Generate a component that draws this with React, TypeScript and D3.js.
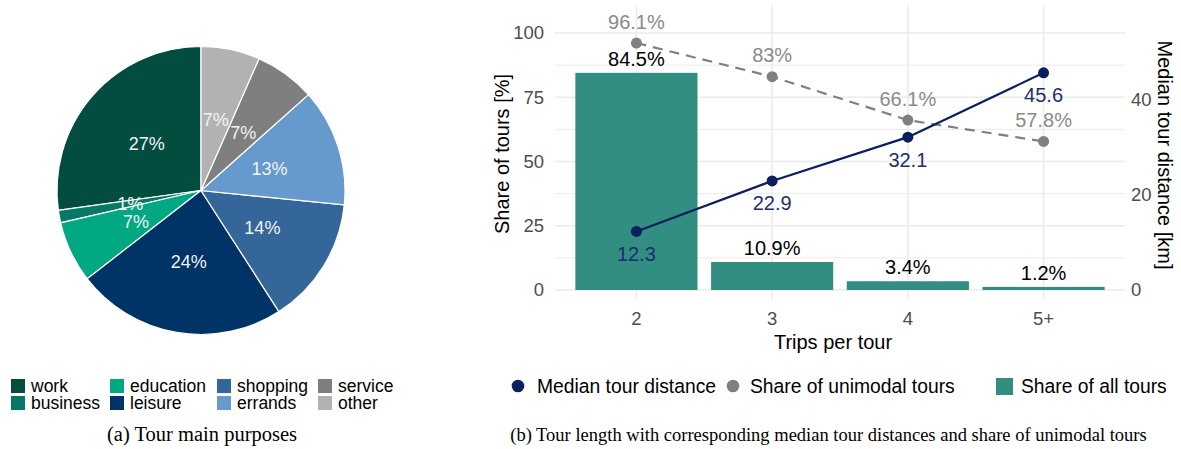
import React from "react";
import * as d3 from "d3";

// ---------- data ----------
const purposes = ["work", "business", "education", "leisure", "shopping", "errands", "service", "other"];
const purposeShares = [27.2, 1.4, 6.9, 23.6, 14.3, 13.2, 6.8, 6.6];

const tripCategories = ["2", "3", "4", "5+"];
const shareAllTours = [84.5, 10.9, 3.4, 1.2];
const medianDistance = [12.3, 22.9, 32.1, 45.6];
const shareUnimodal = [96.1, 83, 66.1, 57.8];
const leftTicks = [0, 25, 50, 75, 100];
const minorTicks = [12.5, 37.5, 62.5, 87.5];
const rightTicks = [0, 20, 40];

// ---------- styles ----------
const purposeColors = ["#024D40", "#077868", "#02A881", "#003366", "#346699", "#6699CC", "#7F7F7F", "#B2B2B2"];
const SANS = "'Liberation Sans', Arial, Helvetica, sans-serif";
const SERIF = "'Liberation Serif', 'Times New Roman', serif";
const TEAL = "#318E80";
const NAVY = "#0B1F5E";
const NAVY_TXT = "#1B2F6E";
const GREY_PT = "#808080";
const GREY_TXT = "#8A8A8A";
const AXIS_TXT = "#4D4D4D";
const GRID = "#EBEBEB";

export default function App() {
  // ---- pie ----
  const cx = 201, cy = 190.5, r = 144;
  const pie = d3.pie<number>().sort(null).startAngle(0).endAngle(-2 * Math.PI);
  const arcs = pie(purposeShares);
  const arcGen = d3.arc<d3.PieArcDatum<number>>().innerRadius(0).outerRadius(r);
  const legendCols = [11, 110, 217, 318];
  const legendRows = [379, 396];

  // ---- bar/line chart ----
  const x = d3.scaleBand<string>().domain(tripCategories).range([555, 1125]).paddingInner(0.1).paddingOuter(0.15);
  const xc = (c: string) => (x(c) as number) + x.bandwidth() / 2;
  const y = d3.scaleLinear().domain([0, 100]).range([290, 33]);
  const ratio = 84.5 / 45.6;
  const yDist = d3.scaleLinear().domain([0, 100 / ratio]).range([290, 33]);

  const line = d3.line<number>().x((_, i) => xc(tripCategories[i])).y((d) => y(d));
  const lineDist = d3.line<number>().x((_, i) => xc(tripCategories[i])).y((d) => yDist(d));

  const fmt = (v: number) => `${v}%`;

  return (
    <svg width={1181} height={449} style={{ position: "absolute", left: 0, top: 0, display: "block", background: "#fff" }}>
      {/* ================= Pie ================= */}
      <g transform={`translate(${cx},${cy})`}>
        {arcs.map((a, i) => (
          <path key={purposes[i]} d={arcGen(a) as string} fill={purposeColors[i]} stroke="#fff" strokeWidth={1.2} />
        ))}
        {arcs.map((a, i) => {
          const [lx, ly] = arcGen.centroid(a);
          return (
            <text key={"l" + i} x={lx} y={ly} dy="0.35em" textAnchor="middle" fontFamily={SANS} fontSize={18} fill="#F2F2F2">
              {Math.round(purposeShares[i])}%
            </text>
          );
        })}
      </g>
      {purposes.map((p, i) => {
        const col = Math.floor(i / 2), row = i % 2;
        const lx = legendCols[col], ly = legendRows[row];
        return (
          <g key={"lg" + p}>
            <rect x={lx} y={ly} width={14} height={14} fill={purposeColors[i]} />
            <text x={lx + 20} y={ly + 13} fontFamily={SANS} fontSize={17.5} fill="#000">{p}</text>
          </g>
        );
      })}
      <text x={202} y={441} textAnchor="middle" fontFamily={SERIF} fontSize={20.5} fill="#000">(a) Tour main purposes</text>

      {/* ================= Bar + lines ================= */}
      {minorTicks.map((t) => (
        <line key={"mg" + t} x1={555} x2={1125} y1={y(t)} y2={y(t)} stroke={GRID} strokeWidth={1} />
      ))}
      {leftTicks.map((t) => (
        <line key={"g" + t} x1={555} x2={1125} y1={y(t)} y2={y(t)} stroke={GRID} strokeWidth={1.5} />
      ))}
      {tripCategories.map((c) => (
        <line key={"vg" + c} x1={xc(c)} x2={xc(c)} y1={5} y2={299} stroke={GRID} strokeWidth={1.5} />
      ))}
      {tripCategories.map((c, i) => (
        <rect key={"b" + c} x={x(c)} y={y(shareAllTours[i])} width={x.bandwidth()} height={y(0) - y(shareAllTours[i])} fill={TEAL} />
      ))}
      <path d={line(shareUnimodal) as string} fill="none" stroke={GREY_PT} strokeWidth={2.2} strokeDasharray="10 7" />
      <path d={lineDist(medianDistance) as string} fill="none" stroke={NAVY} strokeWidth={2.2} />
      {tripCategories.map((c, i) => (
        <circle key={"gp" + c} cx={xc(c)} cy={y(shareUnimodal[i])} r={5.5} fill={GREY_PT} />
      ))}
      {tripCategories.map((c, i) => (
        <circle key={"np" + c} cx={xc(c)} cy={yDist(medianDistance[i])} r={5.5} fill={NAVY} />
      ))}
      {tripCategories.map((c, i) => (
        <text key={"bl" + c} x={xc(c)} y={y(shareAllTours[i]) - 7} textAnchor="middle" fontFamily={SANS} fontSize={20} fill="#000">
          {fmt(shareAllTours[i])}
        </text>
      ))}
      {tripCategories.map((c, i) => (
        <text key={"gl" + c} x={xc(c)} y={y(shareUnimodal[i]) - 14.5} textAnchor="middle" fontFamily={SANS} fontSize={20} fill={GREY_TXT}>
          {fmt(shareUnimodal[i])}
        </text>
      ))}
      {tripCategories.map((c, i) => (
        <text key={"nl" + c} x={xc(c)} y={yDist(medianDistance[i]) + 29.5} textAnchor="middle" fontFamily={SANS} fontSize={20} fill={NAVY_TXT}>
          {medianDistance[i]}
        </text>
      ))}
      {/* left axis */}
      {leftTicks.map((t) => (
        <text key={"lt" + t} x={544} y={y(t)} dy="0.35em" textAnchor="end" fontFamily={SANS} fontSize={18.5} fill={AXIS_TXT}>{t}</text>
      ))}
      {/* right axis */}
      {rightTicks.map((t) => (
        <text key={"rt" + t} x={1131} y={yDist(t)} dy="0.35em" textAnchor="start" fontFamily={SANS} fontSize={18.5} fill={AXIS_TXT}>{t}</text>
      ))}
      {/* x axis */}
      {tripCategories.map((c) => (
        <text key={"xt" + c} x={xc(c)} y={325} textAnchor="middle" fontFamily={SANS} fontSize={18.5} fill={AXIS_TXT}>{c}</text>
      ))}
      <text x={833} y={349} textAnchor="middle" fontFamily={SANS} fontSize={20} fill="#000">Trips per tour</text>
      <text transform="translate(509,154) rotate(-90)" textAnchor="middle" fontFamily={SANS} fontSize={20} fill="#000">Share of tours [%]</text>
      <text transform="translate(1158,155) rotate(90)" textAnchor="middle" fontFamily={SANS} fontSize={20} fill="#000">Median tour distance [km]</text>

      {/* legend b */}
      <circle cx={518} cy={386} r={6.3} fill={NAVY} />
      <text x={537} y={393} fontFamily={SANS} fontSize={19.3} fill="#000">Median tour distance</text>
      <circle cx={733} cy={386} r={6.3} fill={GREY_PT} />
      <text x={750} y={393} fontFamily={SANS} fontSize={19.3} fill="#000">Share of unimodal tours</text>
      <rect x={996} y={378} width={17} height={17} fill={TEAL} />
      <text x={1021} y={393} fontFamily={SANS} fontSize={19.3} fill="#000">Share of all tours</text>

      <text x={828.5} y={441} textAnchor="middle" fontFamily={SERIF} fontSize={18.5} fill="#000">
        (b) Tour length with corresponding median tour distances and share of unimodal tours
      </text>
    </svg>
  );
}
